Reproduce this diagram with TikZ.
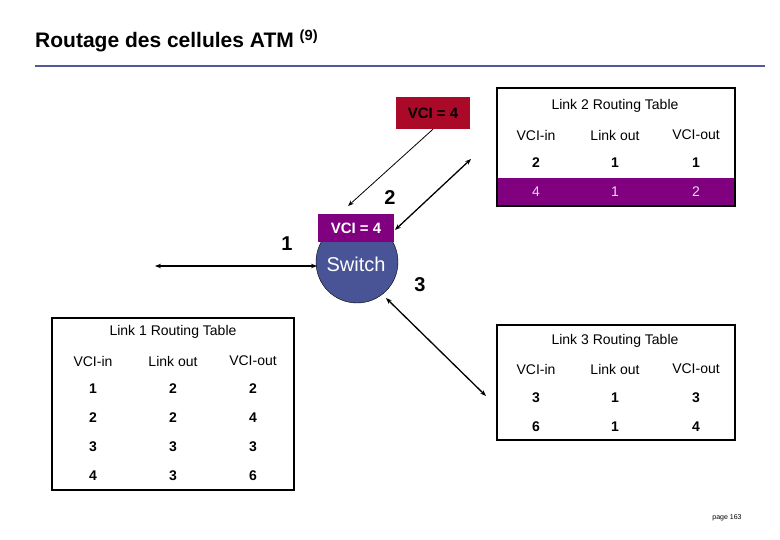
\documentclass[tikz,border=0pt]{standalone}
\usepackage{fontspec}
\setmainfont{Liberation Sans}
\usetikzlibrary{arrows.meta}
\definecolor{purp}{RGB}{128,0,128}
\definecolor{darkred}{RGB}{170,10,40}
\definecolor{swblue}{RGB}{72,84,150}
\definecolor{rule}{RGB}{80,90,150}
\begin{document}
\begin{tikzpicture}[x=1pt,y=-1pt,
  txt/.style={font=\fontsize{14}{16}\selectfont, inner sep=0pt},
  btxt/.style={font=\fontsize{14}{16}\selectfont\bfseries, inner sep=0pt},
  big/.style={font=\fontsize{20}{22}\selectfont\bfseries, inner sep=0pt},
  tbl/.style={draw=black, line width=1.2pt},
  arr/.style={{Stealth[length=6pt]}-{Stealth[length=6pt]}, line width=1.3pt},
  sarr/.style={-{Stealth[length=6pt]}, line width=0.8pt}]
\useasboundingbox (0,0) rectangle (780,540);
\fill[white] (0,0) rectangle (780,540);
% title
\node[anchor=base west, inner sep=0pt, font=\fontsize{21}{24}\selectfont\bfseries] (title) at (35,48) {Routage des cellules ATM \textsuperscript{\normalfont\bfseries (9)}};
\draw[rule, line width=2pt] (35,66) -- (765,66);
% switch
\node[circle, draw=black, fill=swblue, minimum size=82pt, inner sep=0pt] (sw) at (357,262) {};
\node[font=\fontsize{20}{22}\selectfont, text=white, inner sep=0pt] (swl) at (356,264) {Switch};
\node[fill=purp, text=white, btxt, minimum width=76pt, minimum height=28pt, font=\fontsize{15}{16}\selectfont\bfseries] (vci2) at (356,228) {VCI = 4};
\node[fill=darkred, text=black, minimum width=74pt, minimum height=32pt, font=\fontsize{15}{16}\selectfont\bfseries] (vci1) at (433,113) {VCI = 4};
% labels
\node[big] (l1) at (287,244) {1};
\node[big] (l2) at (390,198) {2};
\node[big] (l3) at (420,285) {3};
% connector ends
\coordinate (p1) at (155,266);
\coordinate (p2) at (471,159);
\coordinate (p3) at (486,396);
\coordinate (sw1) at (317,266);
\coordinate (sw2) at (395,230);
\coordinate (sw3) at (386,298);
\coordinate (sw0) at (348,206);
\draw[arr] (p1) -- (sw1);
\draw[arr] (sw2) -- (p2);
\draw[arr] (sw3) -- (p3);
\draw[sarr] (vci1.south) -- (sw0);
% Link 2 table
\fill[purp] (497,178) rectangle (735,206);
\draw[tbl] (497,88) rectangle (735,206);
\node[txt] (t2) at (615,106) {Link 2 Routing Table};
\node[txt] (t2a) at (536,135) {VCI-in};
\node[txt] (t2b) at (615,135) {Link out};
\node[txt] (t2c) at (696,135) {VCI-out};
\node[btxt] at (536,163) {2};
\node[btxt] at (615,163) {1};
\node[btxt] at (696,163) {1};
\node[txt, text=white!85!purp] at (536,192) {4};
\node[txt, text=white!85!purp] at (615,192) {1};
\node[txt, text=white!85!purp] at (696,192) {2};
% Link 3 table
\draw[tbl] (497,325) rectangle (735,440);
\node[txt] (t3) at (615,341) {Link 3 Routing Table};
\node[txt] at (536,369) {VCI-in};
\node[txt] at (615,369) {Link out};
\node[txt] at (696,369) {VCI-out};
\node[btxt] at (536,398) {3};
\node[btxt] at (615,398) {1};
\node[btxt] at (696,398) {3};
\node[btxt] at (536,427) {6};
\node[btxt] at (615,427) {1};
\node[btxt] at (696,427) {4};
% Link 1 table
\draw[tbl] (52,318) rectangle (294,490);
\node[txt] (t1) at (173,332) {Link 1 Routing Table};
\node[txt] at (93,361) {VCI-in};
\node[txt] at (173,361) {Link out};
\node[txt] at (253,361) {VCI-out};
\foreach \y/\a/\b/\c in {389/1/2/2, 418/2/2/4, 447/3/3/3, 476/4/3/6}{
  \node[btxt] at (93,\y) {\a};
  \node[btxt] at (173,\y) {\b};
  \node[btxt] at (253,\y) {\c};
}
\node[font=\fontsize{7}{8}\selectfont, inner sep=0pt] (pg) at (727,518) {page 163};
\end{tikzpicture}
\end{document}
